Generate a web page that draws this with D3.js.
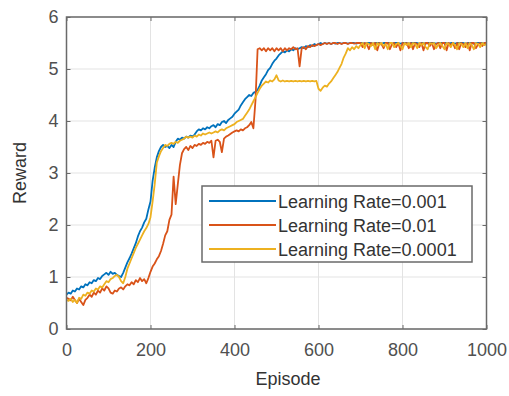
<!DOCTYPE html>
<html lang="en">
<head>
    <meta charset="UTF-8">
    <title>Reward vs Episode</title>
    <script src="https://d3js.org/d3.v7.min.js"></script>
    <style>
        body {
            margin: 0;
            padding: 0;
            background-color: #ffffff;
            font-family: "Liberation Sans", Arial, sans-serif;
        }
        svg text {
            font-family: "Liberation Sans", Arial, sans-serif;
        }
    </style>
</head>
<body>
    <svg id="chart" width="509" height="396"></svg>

    <script>
        // episodes sampled every 5
        const episodes = d3.range(0, 1001, 5);

        const xTicks = [0, 200, 400, 600, 800, 1000];
        const yTicks = [0, 1, 2, 3, 4, 5, 6];

        const seriesNames = ["Learning Rate=0.001", "Learning Rate=0.01", "Learning Rate=0.0001"];

        const rewardLr001 = [
            0.66, 0.70, 0.68, 0.74, 0.72, 0.78, 0.76, 0.82, 0.80, 0.86,
            0.84, 0.90, 0.88, 0.94, 0.92, 0.98, 0.96, 1.02, 1.05, 1.08,
            1.04, 1.10, 1.06, 1.08, 1.04, 1.02, 1.00, 1.08, 1.18, 1.28,
            1.36, 1.45, 1.55, 1.65, 1.78, 1.88, 1.95, 2.05, 2.12, 2.30,
            2.45, 2.85, 3.10, 3.30, 3.42, 3.50, 3.54, 3.50, 3.52, 3.48,
            3.54, 3.50, 3.60, 3.66, 3.64, 3.68, 3.66, 3.70, 3.68, 3.72,
            3.70, 3.74, 3.80, 3.84, 3.82, 3.86, 3.84, 3.88, 3.86, 3.90,
            3.92, 3.88, 3.94, 3.92, 3.98, 4.00, 3.96, 4.02, 4.05, 4.08,
            4.14, 4.18, 4.22, 4.30, 4.36, 4.42, 4.46, 4.50, 4.48, 4.54,
            4.56, 4.60, 4.68, 4.78, 4.84, 4.90, 4.98, 5.02, 5.10, 5.16,
            5.20, 5.26, 5.30, 5.34, 5.32, 5.36, 5.34, 5.38, 5.36, 5.40,
            5.38, 5.40, 5.42, 5.40, 5.44, 5.42, 5.46, 5.44, 5.48, 5.46,
            5.48, 5.50, 5.48, 5.50, 5.49, 5.50, 5.48, 5.50, 5.49, 5.50,
            5.50, 5.49, 5.50, 5.50, 5.49, 5.50, 5.50, 5.50, 5.49, 5.50,
            5.50, 5.50, 5.49, 5.50, 5.50, 5.50, 5.49, 5.50, 5.50, 5.50,
            5.49, 5.50, 5.50, 5.50, 5.50, 5.49, 5.50, 5.50, 5.50, 5.49,
            5.50, 5.50, 5.50, 5.49, 5.50, 5.50, 5.50, 5.50, 5.49, 5.50,
            5.50, 5.49, 5.50, 5.50, 5.50, 5.50, 5.49, 5.50, 5.50, 5.50,
            5.50, 5.50, 5.49, 5.50, 5.50, 5.49, 5.50, 5.50, 5.50, 5.50,
            5.49, 5.50, 5.50, 5.50, 5.49, 5.50, 5.50, 5.50, 5.50, 5.49,
            5.50
        ];

        const rewardLr01 = [
            0.60, 0.58, 0.55, 0.62, 0.56, 0.50, 0.58, 0.52, 0.46, 0.56,
            0.60, 0.66, 0.62, 0.70, 0.66, 0.74, 0.70, 0.78, 0.74, 0.82,
            0.78, 0.70, 0.68, 0.74, 0.72, 0.78, 0.80, 0.76, 0.82, 0.86,
            0.84, 0.90, 0.86, 0.94, 0.90, 0.98, 0.92, 0.96, 0.88, 0.98,
            1.10, 1.20, 1.26, 1.34, 1.40, 1.50, 1.64, 1.80, 1.88, 2.10,
            2.20, 2.93, 2.40, 2.78, 3.15, 3.38, 3.46, 3.50, 3.44, 3.52,
            3.48, 3.54, 3.52, 3.56, 3.54, 3.58, 3.56, 3.60, 3.58, 3.62,
            3.30, 3.62, 3.64, 3.60, 3.40, 3.66, 3.70, 3.72, 3.75, 3.78,
            3.80, 3.82, 3.80, 3.84, 3.82, 3.86, 3.88, 3.92, 3.98, 3.86,
            4.40, 5.38, 5.40, 5.36, 5.40, 5.34, 5.40, 5.36, 5.40, 5.34,
            5.40, 5.36, 5.40, 5.34, 5.40, 5.36, 5.40, 5.38, 5.42, 5.38,
            5.40, 5.05, 5.40, 5.42, 5.38, 5.44, 5.42, 5.46, 5.44, 5.46,
            5.48, 5.46, 5.48, 5.50, 5.48, 5.50, 5.48, 5.50, 5.50, 5.48,
            5.50, 5.48, 5.50, 5.50, 5.48, 5.50, 5.50, 5.49, 5.50, 5.50,
            5.50, 5.42, 5.50, 5.48, 5.38, 5.50, 5.46, 5.50, 5.36, 5.50,
            5.48, 5.40, 5.50, 5.50, 5.38, 5.48, 5.50, 5.42, 5.50, 5.36,
            5.50, 5.48, 5.50, 5.40, 5.50, 5.38, 5.50, 5.48, 5.42, 5.50,
            5.36, 5.50, 5.50, 5.44, 5.50, 5.38, 5.48, 5.50, 5.40, 5.50,
            5.50, 5.36, 5.50, 5.46, 5.50, 5.40, 5.50, 5.38, 5.50, 5.48,
            5.42, 5.50, 5.36, 5.50, 5.50, 5.40, 5.48, 5.50, 5.44, 5.50,
            5.50
        ];

        const rewardLr0001 = [
            0.56, 0.54, 0.58, 0.52, 0.56, 0.50, 0.60, 0.58, 0.66, 0.64,
            0.70, 0.68, 0.74, 0.72, 0.78, 0.76, 0.82, 0.80, 0.86, 0.92,
            0.90, 0.96, 0.98, 1.02, 1.04, 1.00, 0.92, 0.88, 1.00, 1.16,
            1.26, 1.36, 1.46, 1.56, 1.64, 1.72, 1.80, 1.88, 1.94, 2.02,
            2.15, 2.45, 2.78, 3.20, 3.32, 3.42, 3.48, 3.54, 3.52, 3.56,
            3.58, 3.56, 3.60, 3.58, 3.62, 3.64, 3.66, 3.70, 3.68, 3.70,
            3.68, 3.72, 3.70, 3.74, 3.72, 3.76, 3.74, 3.76, 3.78, 3.76,
            3.78, 3.80, 3.78, 3.82, 3.84, 3.82, 3.86, 3.88, 3.90, 3.92,
            3.94, 3.98, 4.00, 4.02, 4.04, 4.10, 4.16, 4.22, 4.30, 4.38,
            4.46, 4.54, 4.62, 4.68, 4.72, 4.76, 4.74, 4.78, 4.76, 4.80,
            4.88, 4.78, 4.76, 4.78, 4.76, 4.77, 4.76, 4.77, 4.76, 4.77,
            4.76, 4.77, 4.76, 4.77, 4.76, 4.77, 4.76, 4.77, 4.76, 4.77,
            4.62, 4.58, 4.64, 4.68, 4.66, 4.72, 4.76, 4.82, 4.88, 4.94,
            5.02, 5.10, 5.22, 5.30, 5.40, 5.36, 5.42, 5.38, 5.44, 5.40,
            5.46, 5.50, 5.40, 5.50, 5.48, 5.44, 5.50, 5.38, 5.50, 5.46,
            5.50, 5.44, 5.48, 5.38, 5.50, 5.50, 5.42, 5.48, 5.50, 5.44,
            5.38, 5.50, 5.46, 5.50, 5.42, 5.50, 5.48, 5.40, 5.50, 5.46,
            5.50, 5.42, 5.38, 5.50, 5.48, 5.50, 5.40, 5.46, 5.50, 5.44,
            5.38, 5.50, 5.48, 5.42, 5.50, 5.46, 5.38, 5.50, 5.48, 5.42,
            5.50, 5.40, 5.50, 5.46, 5.38, 5.50, 5.48, 5.42, 5.50, 5.46,
            5.48
        ];

        const seriesValues = [rewardLr001, rewardLr01, rewardLr0001];
        const seriesColors = ["#0072BD", "#D95319", "#EDB120"];

        seriesValues.forEach((s, i) => {
            if (s.length !== episodes.length) console.error("length mismatch", i, s.length);
        });

        const svg = d3.select("#chart");

        // plot box
        const boxLeft = 66.5, boxRight = 486.5, boxTop = 17, boxBottom = 329;

        const xScale = d3.scaleLinear().domain([0, 1000]).range([boxLeft, boxRight]);
        const yScale = d3.scaleLinear().domain([0, 6]).range([boxBottom, boxTop]);

        // grid
        svg.append("g")
            .selectAll("line")
            .data(xTicks)
            .join("line")
            .attr("x1", d => xScale(d)).attr("x2", d => xScale(d))
            .attr("y1", boxTop).attr("y2", boxBottom)
            .attr("stroke", "#e3e3e3").attr("stroke-width", 1);

        svg.append("g")
            .selectAll("line")
            .data(yTicks)
            .join("line")
            .attr("x1", boxLeft).attr("x2", boxRight)
            .attr("y1", d => yScale(d)).attr("y2", d => yScale(d))
            .attr("stroke", "#e3e3e3").attr("stroke-width", 1);

        // clip for the data
        svg.append("clipPath").attr("id", "plot-clip")
            .append("rect")
            .attr("x", boxLeft).attr("y", boxTop)
            .attr("width", boxRight - boxLeft).attr("height", boxBottom - boxTop);

        const line = d3.line()
            .x((d, i) => xScale(episodes[i]))
            .y(d => yScale(d));

        const lines = svg.append("g").attr("clip-path", "url(#plot-clip)");
        seriesValues.forEach((vals, i) => {
            lines.append("path")
                .datum(vals)
                .attr("d", line)
                .attr("fill", "none")
                .attr("stroke", seriesColors[i])
                .attr("stroke-width", 1.8)
                .attr("stroke-linejoin", "round");
        });

        // axes with inward ticks on all sides (box on)
        const axisColor = "#6a6a6a";
        const tickLen = 4;
        const fmt = d3.format("d");

        const xAxisBottom = d3.axisBottom(xScale).tickValues(xTicks).tickFormat(fmt).tickSizeInner(-tickLen).tickSizeOuter(0);
        const xAxisTop = d3.axisTop(xScale).tickValues(xTicks).tickSizeInner(-tickLen).tickSizeOuter(0).tickFormat("");
        const yAxisLeft = d3.axisLeft(yScale).tickValues(yTicks).tickFormat(fmt).tickSizeInner(-tickLen).tickSizeOuter(0);
        const yAxisRight = d3.axisRight(yScale).tickValues(yTicks).tickSizeInner(-tickLen).tickSizeOuter(0).tickFormat("");

        const gxb = svg.append("g").attr("transform", `translate(0,${boxBottom})`).call(xAxisBottom);
        const gxt = svg.append("g").attr("transform", `translate(0,${boxTop})`).call(xAxisTop);
        const gyl = svg.append("g").attr("transform", `translate(${boxLeft},0)`).call(yAxisLeft);
        const gyr = svg.append("g").attr("transform", `translate(${boxRight},0)`).call(yAxisRight);

        [gxb, gxt, gyl, gyr].forEach(g => {
            g.select(".domain").remove();
            g.selectAll(".tick line").attr("stroke", axisColor).attr("stroke-width", 1);
            g.selectAll(".tick text")
                .attr("fill", "#505050")
                .style("font-size", "18px");
        });
        gxb.selectAll(".tick text").attr("dy", "0.71em").attr("y", 14);
        gyl.selectAll(".tick text").attr("x", -8);

        // box
        svg.append("rect")
            .attr("x", boxLeft).attr("y", boxTop)
            .attr("width", boxRight - boxLeft).attr("height", boxBottom - boxTop)
            .attr("fill", "none")
            .attr("stroke", axisColor)
            .attr("stroke-width", 1.5);

        // axis labels
        svg.append("text")
            .attr("x", 288).attr("y", 385)
            .attr("text-anchor", "middle")
            .attr("fill", "#333")
            .style("font-size", "18px")
            .text("Episode");

        svg.append("text")
            .attr("transform", "translate(26,173) rotate(-90)")
            .attr("text-anchor", "middle")
            .attr("fill", "#333")
            .style("font-size", "18px")
            .text("Reward");

        // legend
        const legend = svg.append("g");
        legend.append("rect")
            .attr("x", 202).attr("y", 186)
            .attr("width", 270).attr("height", 76)
            .attr("fill", "#ffffff")
            .attr("stroke", axisColor)
            .attr("stroke-width", 1.5);

        const rowY = [201, 225, 249];
        seriesNames.forEach((name, i) => {
            legend.append("line")
                .attr("x1", 209).attr("x2", 276)
                .attr("y1", rowY[i]).attr("y2", rowY[i])
                .attr("stroke", seriesColors[i])
                .attr("stroke-width", 1.8);
            legend.append("text")
                .attr("x", 278).attr("y", rowY[i] + 6.5)
                .attr("fill", "#333")
                .style("font-size", "18px")
                .text(name);
        });
    </script>
</body>
</html>
